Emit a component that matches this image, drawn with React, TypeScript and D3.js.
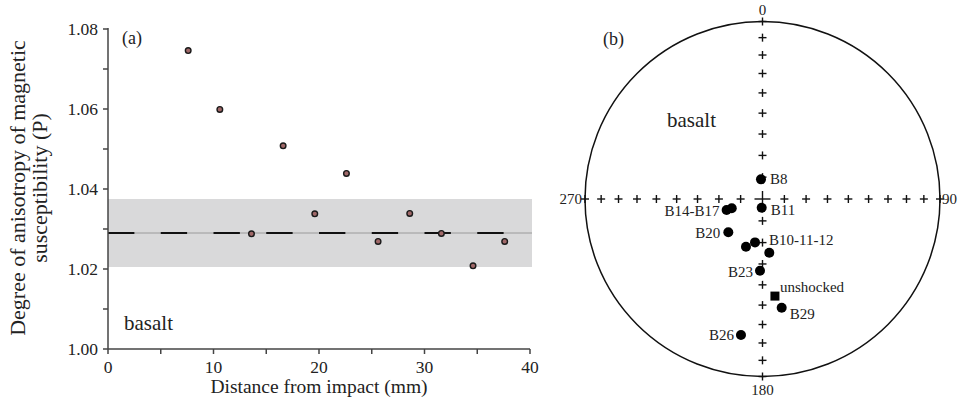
import React from 'react';
import * as d3 from 'd3';

// (a) degree of anisotropy vs distance
const distance = [7.6, 10.6, 13.6, 16.6, 19.6, 22.6, 25.6, 28.6, 31.6, 34.6, 37.6];
const degreeP = [1.0746, 1.0599, 1.0288, 1.0508, 1.0338, 1.0439, 1.0269, 1.0339, 1.0289, 1.0208, 1.0269];
const meanP = 1.029;
const bandLow = 1.0205;
const bandHigh = 1.0375;
const xTicks = [0, 10, 20, 30, 40];
const yTicks = [1.0, 1.02, 1.04, 1.06, 1.08];

// (b) lower hemisphere equal-area stereonet, trend / plunge in degrees
const dotTrend = [355.6, 185.3, 252.9, 253.2, 225.8, 199.1, 189.8, 172.8, 182.0, 170.0, 189.0];
const dotPlunge = [81.0, 86.0, 72.8, 75.3, 68.1, 66.8, 69.8, 65.1, 56.8, 37.8, 23.5];
const unshockedTrend = 172.7;
const unshockedPlunge = 44.1;
const sampleLabels = ['B8', 'B11', 'B14-B17', 'B20', 'B10-11-12', 'B23', 'B29', 'B26', 'unshocked'];
const gridPlunges = [0, 10, 20, 30, 40, 50, 60, 70, 80];
const gridTrends = [0, 90, 180, 270];
const compassLabels = ['0', '90', '180', '270'];

const ink = '#222';

const App = () => {
  const x = d3.scaleLinear().domain([0, 40]).range([108, 530]);
  const y = d3.scaleLinear().domain([1.0, 1.08]).range([349, 29]);
  const minorX = [5, 15, 25, 35];
  const minorY = [1.01, 1.03, 1.05, 1.07];
  const dashLen = x(2.5) - x(0);

  const cx = 762.5;
  const cy = 199;
  const R = 177.5;
  const proj = d3.geoAzimuthalEqualArea()
    .rotate([0, -90])
    .scale(R / Math.SQRT2)
    .translate([cx, cy]);
  const pt = (trend: number, plunge: number) => proj([180 - trend, plunge]) as [number, number];

  // label placement: [anchor dot index or -1 for unshocked, dx, dy, anchor]
  const labelPlace: [number, number, number, string][] = [
    [0, 9, 5, 'start'],
    [1, 9, 7, 'start'],
    [2, -7, 6, 'end'],
    [4, -8, 6, 'end'],
    [6, 14, 3, 'start'],
    [8, -7, 6, 'end'],
    [9, 8, 11, 'start'],
    [10, -7, 5, 'end'],
    [-1, 5, -4, 'start'],
  ];
  const compassPlace: [number, number, string][] = [
    [0, -7, 'middle'],
    [2, 5, 'start'],
    [0, 18, 'middle'],
    [-3, 5, 'end'],
  ];

  const cross = (p: [number, number], s: number, key: string) => (
    <g key={key} stroke="#111" strokeWidth={1.4}>
      <line x1={p[0] - s} x2={p[0] + s} y1={p[1]} y2={p[1]} />
      <line x1={p[0]} x2={p[0]} y1={p[1] - s} y2={p[1] + s} />
    </g>
  );

  const unshocked = pt(unshockedTrend, unshockedPlunge);

  return (
    <svg width={960} height={409} style={{ position: 'absolute', left: 0, top: 0, background: '#fff', fontFamily: 'Liberation Serif, Times New Roman, serif' }}>
      {/* panel (a) */}
      <rect x={x(0)} y={y(bandHigh)} width={x(40) - x(0) + 2} height={y(bandLow) - y(bandHigh)} fill="#d9d9da" />
      <line x1={x(0)} x2={x(40) + 2} y1={y(meanP)} y2={y(meanP)} stroke="#9a9a9a" strokeWidth={1} />
      <line x1={x(0)} x2={x(40)} y1={y(meanP)} y2={y(meanP)} stroke="#111" strokeWidth={2.2}
        strokeDasharray={`${dashLen} ${dashLen}`} />

      <g stroke="#444" strokeWidth={1.5}>
        <line x1={x(0)} x2={x(0)} y1={y(1.08) - 1} y2={y(1.0)} />
        <line x1={x(0)} x2={x(40)} y1={y(1.0)} y2={y(1.0)} />
        {yTicks.concat(minorY).map(t => (
          <line key={'yt' + t} x1={x(0) - 5} x2={x(0)} y1={y(t)} y2={y(t)} />
        ))}
        {xTicks.concat(minorX).map(t => (
          <line key={'xt' + t} x1={x(t)} x2={x(t)} y1={y(1.0)} y2={y(1.0) + 5} />
        ))}
      </g>
      <g fill={ink} fontSize={17.5}>
        {yTicks.map(t => (
          <text key={'yl' + t} x={x(0) - 10} y={y(t)} dy="0.35em" textAnchor="end">{d3.format('.2f')(t)}</text>
        ))}
        {xTicks.map(t => (
          <text key={'xl' + t} x={x(t)} y={373} textAnchor="middle">{t}</text>
        ))}
      </g>
      <text x={(x(0) + x(40)) / 2} y={393} textAnchor="middle" fontSize={19.5} fill={ink}>Distance from impact (mm)</text>
      <g fill={ink} fontSize={22} textAnchor="middle">
        <text transform="translate(25,188) rotate(-90)">Degree of anisotropy of magnetic</text>
        <text transform="translate(47,188) rotate(-90)">susceptibility (P)</text>
      </g>
      <text x={122} y={44} fontSize={18} fill={ink}>(a)</text>
      <text x={124} y={330} fontSize={21} fill={ink}>basalt</text>

      {distance.map((d, i) => (
        <circle key={'p' + i} cx={x(d)} cy={y(degreeP[i])} r={2.8} fill="#a06868" stroke="#1a1a1a" strokeWidth={1.4} />
      ))}

      {/* panel (b) */}
      <circle cx={cx} cy={cy} r={R} fill="none" stroke="#111" strokeWidth={1.5} />
      {gridTrends.map(t => gridPlunges.map(p => cross(pt(t, p), 4, `c${t}-${p}`)))}
      {cross(pt(0, 90), 8, 'center')}
      {gridTrends.map((t, i) => {
        const p = pt(t, 0);
        const [dx, dy, anchor] = compassPlace[i];
        return (
          <text key={'cl' + t} x={p[0] + dx} y={p[1] + dy} textAnchor={anchor} fontSize={15} fill={ink}>{compassLabels[i]}</text>
        );
      })}
      {dotTrend.map((t, i) => {
        const p = pt(t, dotPlunge[i]);
        return <circle key={'d' + i} cx={p[0]} cy={p[1]} r={5} fill="#000" />;
      })}
      <rect x={unshocked[0] - 4.5} y={unshocked[1] - 4.5} width={9} height={9} fill="#000" />
      {sampleLabels.map((s, i) => {
        const [idx, dx, dy, anchor] = labelPlace[i];
        const p = idx < 0 ? unshocked : pt(dotTrend[idx], dotPlunge[idx]);
        return (
          <text key={'sl' + s} x={p[0] + dx} y={p[1] + dy} textAnchor={anchor} fontSize={15} fill={ink}>{s}</text>
        );
      })}
      <text x={603} y={45} fontSize={18} fill={ink}>(b)</text>
      <text x={667} y={127} fontSize={21} fill={ink}>basalt</text>
    </svg>
  );
};

export default App;
